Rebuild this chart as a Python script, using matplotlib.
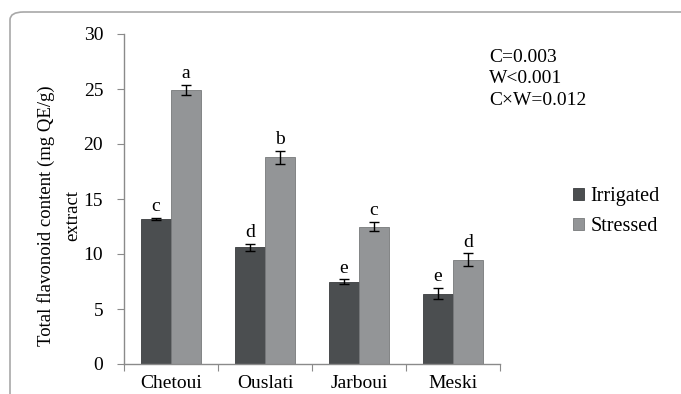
import matplotlib
matplotlib.use("Agg")
import matplotlib.pyplot as plt
import numpy as np
from matplotlib.patches import FancyBboxPatch

plt.rcParams['font.family'] = ['Liberation Serif', 'DejaVu Serif']

cultivars = ["Chetoui", "Ouslati", "Jarboui", "Meski"]
irrigated = [13.2, 10.6, 7.5, 6.4]
irrigated_err = [0.1, 0.3, 0.2, 0.5]
stressed = [24.9, 18.8, 12.5, 9.5]
stressed_err = [0.45, 0.6, 0.45, 0.55]
irrigated_letters = ["c", "d", "e", "e"]
stressed_letters = ["a", "b", "c", "d"]
yticks = [0, 5, 10, 15, 20, 25, 30]
stats_text = "C=0.003\nW<0.001\nC×W=0.012"

fig = plt.figure(figsize=(6.81, 3.94), dpi=100)

# rounded chart frame
frame = FancyBboxPatch((10 / 681, -0.2), 1.05, 1.2 - 12 / 394,
                       boxstyle="round,pad=0,rounding_size=0.02",
                       transform=fig.transFigure, facecolor="none",
                       edgecolor="#a8a8a8", linewidth=1.2, clip_on=False)
fig.patches.append(frame)

ax = fig.add_axes([124 / 681, 1 - 364 / 394, (500 - 124) / 681, (364 - 34) / 394])

x = np.arange(len(cultivars))
w = 0.32
c_irr = "#4b4e50"
c_str = "#939597"
ax.bar(x - w / 2, irrigated, w, color=c_irr, edgecolor="#3a3c3e", linewidth=0.6,
       label="Irrigated", zorder=2)
ax.bar(x + w / 2, stressed, w, color=c_str, edgecolor="#77797b", linewidth=0.6,
       label="Stressed", zorder=2)
ax.errorbar(x - w / 2, irrigated, yerr=irrigated_err, fmt="none", ecolor="black",
            elinewidth=1, capsize=3.5, capthick=1, zorder=3)
ax.errorbar(x + w / 2, stressed, yerr=stressed_err, fmt="none", ecolor="black",
            elinewidth=1, capsize=3.5, capthick=1, zorder=3)

for xi, v, e, t in zip(x - w / 2, irrigated, irrigated_err, irrigated_letters):
    ax.annotate(t, (xi, v + e), xytext=(0, 2), textcoords="offset points",
                ha="center", va="bottom", fontsize=14)
for xi, v, e, t in zip(x + w / 2, stressed, stressed_err, stressed_letters):
    ax.annotate(t, (xi, v + e), xytext=(0, 2), textcoords="offset points",
                ha="center", va="bottom", fontsize=14)

ax.set_xlim(-0.5, len(cultivars) - 0.5)
ax.set_ylim(0, 30)
ax.set_yticks(yticks)
ax.set_yticklabels([str(t) for t in yticks], fontsize=14)
ax.set_xticks(np.arange(len(cultivars) + 1) - 0.5, minor=False)
ax.set_xticklabels([""] * (len(cultivars) + 1))
ax.set_xticks(x, minor=True)
ax.set_xticklabels(cultivars, minor=True, fontsize=14)
ax.tick_params(axis="x", which="minor", length=0, pad=8)
ax.tick_params(axis="x", which="major", length=5, direction="out", color="#8a8a8a")
ax.tick_params(axis="y", length=5, direction="out", color="#8a8a8a", pad=10)
for s in ["top", "right"]:
    ax.spines[s].set_visible(False)
for s in ["left", "bottom"]:
    ax.spines[s].set_color("#8a8a8a")
    ax.spines[s].set_linewidth(1)

ax.set_ylabel("Total flavonoid content (mg QE/g)\nextract", fontsize=13.5,
              linespacing=1.65, labelpad=2)
ax.yaxis.label.set_y(0.45)

fig.text(489 / 681, 1 - 49 / 394, stats_text, fontsize=14, va="top", ha="left",
         linespacing=1.33)

fig.legend(loc="upper left", bbox_to_anchor=(555 / 681, 1 - 169 / 394), frameon=False,
           fontsize=14.5, handlelength=0.55, handleheight=0.55, handletextpad=0.3,
           labelspacing=0.55)

fig.savefig("out.png", dpi=100)
